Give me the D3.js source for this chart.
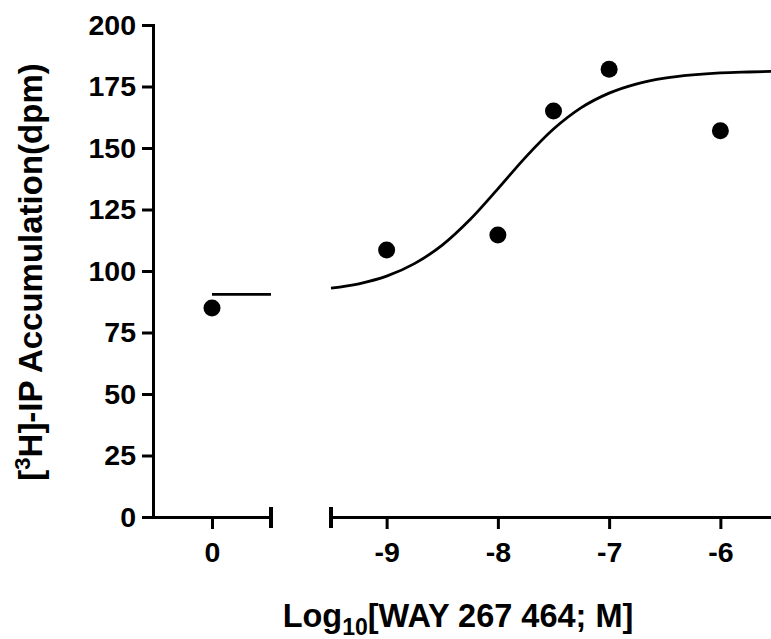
<!DOCTYPE html>
<html>
<head>
<meta charset="utf-8">
<script src="https://cdn.jsdelivr.net/npm/d3@7"></script>
<style>
  html, body { margin: 0; padding: 0; background: #fff; }
  svg { display: block; }
  text { font-family: Arial, "Liberation Sans", sans-serif; font-weight: bold; fill: #000; }
</style>
</head>
<body>
<svg id="chart" width="771" height="639"></svg>
<script>
// ---- data ----
const controlX = [0];
const controlY = [85];
const logConc = [-9, -8, -7.5, -7, -6];
const response = [108.5, 114.6, 165, 182, 157];
// fitted curve as drawn in the picture
const curveX = [-9.5, -9.25, -9, -8.75, -8.5, -8.25, -8, -7.75, -7.5, -7.25, -7, -6.75, -6.5, -6.25, -6, -5.75, -5.5];
const curveY = [93.0, 94.8, 97.9, 103.0, 110.5, 120.9, 133.4, 146.3, 157.7, 166.4, 172.3, 176.1, 178.4, 179.7, 180.5, 180.9, 181.2];
// bottom plateau line drawn in the control segment
const baseX = [0, 1];
const baseY = [90.5, 90.5];
const yTicks = [0, 25, 50, 75, 100, 125, 150, 175, 200];
const xTicksLeft = [0];
const xTicksRight = [-9, -8, -7, -6];

const svg = d3.select("#chart");
const y = d3.scaleLinear().domain([0, 200]).range([517, 25]);
const xL = d3.scaleLinear().domain([-1, 1]).range([153, 271]);
const xR = d3.scaleLinear().domain([-9.5, -5.5]).range([331, 776]);

const SW = 3;
const tickFont = 28.5;
const FF = "Arial, 'Liberation Sans', sans-serif";
const fmt = d => String(d).replace("\u2212", "-");

// y axis
const gy = svg.append("g").attr("transform", `translate(${xL(-1)},0)`)
  .call(d3.axisLeft(y).tickValues(yTicks).tickFormat(fmt).tickSize(11).tickSizeOuter(0).tickPadding(6));
gy.select(".domain").attr("stroke-width", SW).attr("stroke-linecap", "square");
gy.selectAll(".tick line").attr("stroke-width", SW);
gy.selectAll(".tick text").attr("font-size", tickFont).attr("font-family", FF).attr("font-weight", "bold");

// x axis left segment
const gxL = svg.append("g").attr("transform", `translate(0,${y(0)})`)
  .call(d3.axisBottom(xL).tickValues(xTicksLeft).tickFormat(fmt).tickSize(12).tickSizeOuter(0).tickPadding(13));
gxL.select(".domain").attr("stroke-width", SW);
gxL.selectAll(".tick line").attr("stroke-width", SW);
gxL.selectAll(".tick text").attr("font-size", tickFont).attr("font-family", FF).attr("font-weight", "bold");

// x axis right segment
const gxR = svg.append("g").attr("transform", `translate(0,${y(0)})`)
  .call(d3.axisBottom(xR).tickValues(xTicksRight).tickFormat(fmt).tickSize(12).tickSizeOuter(0).tickPadding(13));
gxR.select(".domain").attr("stroke-width", SW);
gxR.selectAll(".tick line").attr("stroke-width", SW);
gxR.selectAll(".tick text").attr("font-size", tickFont).attr("font-family", FF).attr("font-weight", "bold");

// break caps
[[xL, 1], [xR, -9.5]].forEach(([s, v]) => {
  svg.append("line")
    .attr("x1", s(v)).attr("x2", s(v))
    .attr("y1", y(0) - 10).attr("y2", y(0) + 11)
    .attr("stroke", "#000").attr("stroke-width", 4);
});

// curve
const line = d3.line().x(d => xR(d[0])).y(d => y(d[1])).curve(d3.curveMonotoneX);
svg.append("path")
  .datum(curveX.map((v, i) => [v, curveY[i]]))
  .attr("d", line).attr("fill", "none").attr("stroke", "#000").attr("stroke-width", 2.8);

// baseline in control segment
const lineL = d3.line().x(d => xL(d[0])).y(d => y(d[1]));
svg.append("path")
  .datum(baseX.map((v, i) => [v, baseY[i]]))
  .attr("d", lineL).attr("fill", "none").attr("stroke", "#000").attr("stroke-width", 2.8);

// points
svg.append("g").selectAll("circle").data(controlX.map((v, i) => [v, controlY[i]]))
  .join("circle").attr("cx", d => xL(d[0])).attr("cy", d => y(d[1])).attr("r", 8.5).attr("fill", "#000");
svg.append("g").selectAll("circle").data(logConc.map((v, i) => [v, response[i]]))
  .join("circle").attr("cx", d => xR(d[0])).attr("cy", d => y(d[1])).attr("r", 8.5).attr("fill", "#000");

// x title
const xt = svg.append("text").attr("x", 458).attr("y", 627).attr("text-anchor", "middle").attr("font-size", 32.5);
xt.append("tspan").text("Log");
xt.append("tspan").attr("font-size", 23).attr("dy", 8).text("10");
xt.append("tspan").attr("dy", -8).text("[WAY 267 464; M]");

// y title
const yt = svg.append("text").attr("transform", "translate(42,272) rotate(-90)").attr("text-anchor", "middle").attr("font-size", 33);
yt.append("tspan").text("[");
yt.append("tspan").attr("font-size", 22).attr("dy", -12).text("3");
yt.append("tspan").attr("dy", 12).text("H]-IP Accumulation(dpm)");
</script>
</body>
</html>
